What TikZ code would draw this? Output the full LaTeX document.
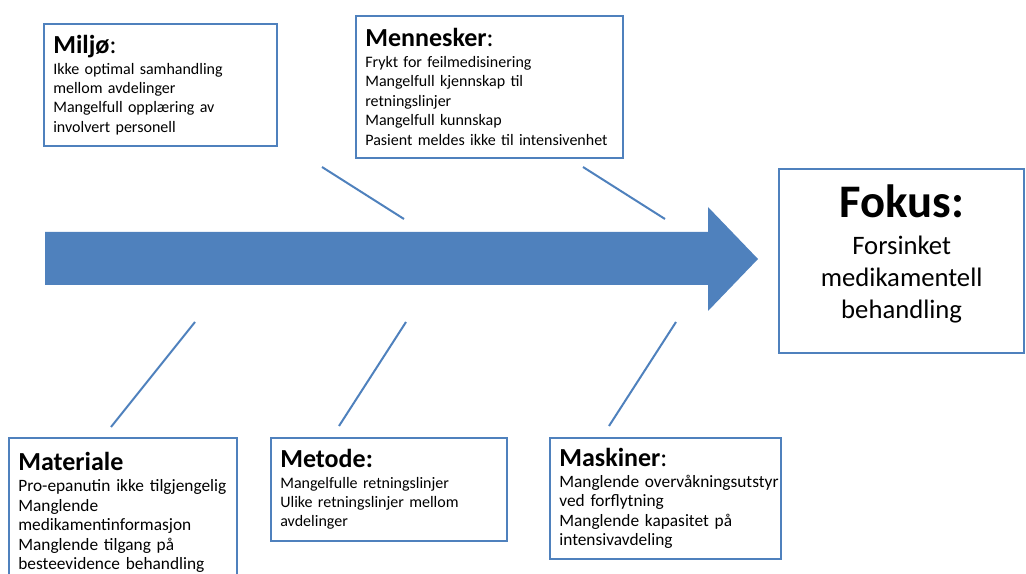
\documentclass[tikz,border=0pt]{standalone}
\usepackage{fontspec}
\setmainfont{Carlito}
\usepackage{tikz}
\usetikzlibrary{positioning}
\definecolor{fishblue}{HTML}{4F81BD}
\newcommand{\causetitle}[1]{{\fontsize{19.5}{22}\selectfont\bfseries #1}}
\newcommand{\causecolon}{{\fontsize{19.5}{22}\selectfont:}}

\begin{document}
\begin{tikzpicture}[
    x=0.75pt, y=-0.75pt,
    cause/.style={draw=fishblue, line width=1.5pt, anchor=north west, align=left, inner xsep=7pt, inner ysep=6pt, font=\fontsize{12}{14.6}\selectfont},
    focus/.style={draw=fishblue, line width=1.5pt, anchor=north west, align=center, font=\fontsize{20}{24}\selectfont},
    bone/.style={draw=fishblue, line width=1.5pt}
]
\useasboundingbox (0,0) rectangle (1026,574);

% Spine
\fill[fishblue] (45,232) -- (708,232) -- (708,207) -- (758,259) -- (708,311) -- (708,285) -- (45,285) -- cycle;

% Nodes
\node[cause, text width=161pt, minimum height=91.5pt] (miljo) at (43,23)
    {\causetitle{Miljø}\causecolon\\[1pt]
     Ikke optimal samhandling\\
     mellom avdelinger\\
     Mangelfull opplæring av\\
     involvert personell};

\node[cause, text width=186pt, minimum height=106.5pt] (mennesker) at (355,15)
    {\causetitle{Mennesker}\causecolon\\[1pt]
     Frykt for feilmedisinering\\
     Mangelfull kjennskap til\\
     retningslinjer\\
     Mangelfull kunnskap\\
     Pasient meldes ikke til intensivenhet};

\node[focus, minimum width=184pt, minimum height=138pt, text depth=14pt] (fokus) at (778,168)
    {{\fontsize{35}{40}\selectfont\bfseries Fokus:}\\[4pt]
     Forsinket\\
     medikamentell\\
     behandling};

\node[cause, font=\fontsize{13}{14.6}\selectfont, text width=157pt, minimum height=112pt] (materiale) at (8,437)
    {\causetitle{Materiale}\\[1pt]
     Pro-epanutin ikke tilgjengelig\\
     Manglende\\
     medikamentinformasjon\\
     Manglende tilgang på\\
     besteevidence behandling};

\node[cause, text width=163pt, minimum height=77pt] (metode) at (270,437)
    {\causetitle{Metode:}\\[1pt]
     Mangelfulle retningslinjer\\
     Ulike retningslinjer mellom\\
     avdelinger};

\node[cause, font=\fontsize{13}{14.6}\selectfont, text width=159pt, minimum height=91pt] (maskiner) at (549,437)
    {\causetitle{Maskiner}\causecolon\\[1pt]
     \mbox{Manglende overvåkningsutstyr}\\
     ved forflytning\\
     Manglende kapasitet på\\
     intensivavdeling};

% Bones
\coordinate (u1a) at (322,167);  \coordinate (u1b) at (404,219);
\coordinate (u2a) at (583,167);  \coordinate (u2b) at (665,219);
\coordinate (l1a) at (195,322);  \coordinate (l1b) at (111,427);
\coordinate (l2a) at (406,322);  \coordinate (l2b) at (339,426);
\coordinate (l3a) at (676,322);  \coordinate (l3b) at (609,426);

\draw[bone] (u1a) -- (u1b);
\draw[bone] (u2a) -- (u2b);
\draw[bone] (l1a) -- (l1b);
\draw[bone] (l2a) -- (l2b);
\draw[bone] (l3a) -- (l3b);

\end{tikzpicture}
\end{document}
